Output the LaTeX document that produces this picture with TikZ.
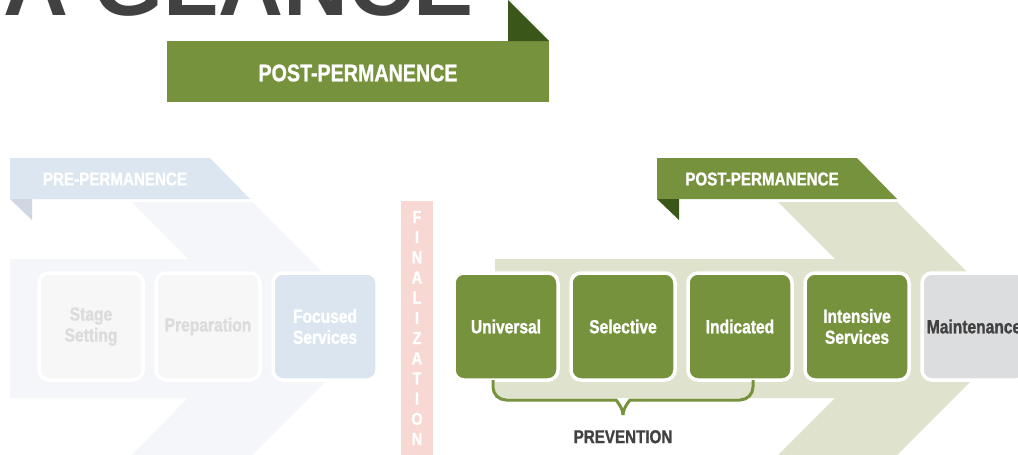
\documentclass[tikz,border=0pt]{standalone}
\usepackage{fontspec}
\setmainfont{Liberation Sans}[FakeStretch=0.82, BoldFeatures={FakeBold=1.2}]
\newfontfamily\titlefont{Liberation Sans}
\usetikzlibrary{positioning}

\definecolor{postgreen}{HTML}{76923C}
\definecolor{foldgreen}{HTML}{3B5619}
\definecolor{postpale}{HTML}{DFE2CC}
\definecolor{prepale}{HTML}{F4F6FA}
\definecolor{prebanner}{HTML}{DCE6F1}
\definecolor{prefold}{HTML}{CED7E2}
\definecolor{finpink}{HTML}{F7D8D3}
\definecolor{ghostfill}{HTML}{F7F7F7}
\definecolor{ghosttext}{HTML}{DCDCDC}
\definecolor{focusfill}{HTML}{DAE5F0}
\definecolor{maintfill}{HTML}{DCDDDF}
\definecolor{darktext}{HTML}{414141}

\begin{document}
\begin{tikzpicture}[
        x=1pt, y=-1pt,
        node distance=13pt,
        stagebox/.style={rectangle, draw=white, line width=3.5pt, rounded corners=10pt, minimum width=104pt, minimum height=107pt, outer sep=0pt, align=center, font=\bfseries\fontsize{19}{21}\selectfont},
        greenbox/.style={stagebox, fill=postgreen, text=white},
        ghostbox/.style={stagebox, fill=ghostfill, text=ghosttext},
        bannertext/.style={inner sep=0pt, text=white, font=\bfseries\fontsize{18.5}{18.5}\selectfont},
        finbar/.style={rectangle, fill=finpink, text=white, minimum width=32pt, minimum height=255pt, align=center, font=\bfseries\fontsize{17.5}{20.2}\selectfont},
        braceline/.style={draw=postgreen, line width=3pt, rounded corners=13pt}
    ]
        \useasboundingbox (0,0) rectangle (1018,455);
        \fill[white] (0,0) rectangle (1018,455);

        % Title and top banner
        \node[anchor=base west, inner sep=0pt, text=darktext, font=\titlefont\bfseries\fontsize{90}{90}\selectfont] (title) at (3,16) {A GLANCE};
        \fill[postgreen] (167,41) rectangle (549,102);
        \fill[foldgreen] (508,0) -- (549,41) -- (508,41) -- cycle;
        \node[bannertext, font=\bfseries\fontsize{24}{24}\selectfont] (toplabel) at (358,73) {POST-PERMANENCE};

        % Chevrons
        \fill[prepale] (10,259) -- (188,259) -- (132,202) -- (252,202) -- (378.5,328.5) -- (252,455) -- (132,455) -- (188,398) -- (10,398) -- cycle;
        \fill[postpale] (495,259) -- (835,259) -- (778,202) -- (897,202) -- (1023.5,328.5) -- (897,455) -- (778,455) -- (835,398) -- (495,398) -- cycle;

        % Banners
        \fill[prebanner] (10,158) -- (210,158) -- (250,199) -- (10,199) -- cycle;
        \fill[prefold] (10,199) -- (32,199) -- (32,220) -- cycle;
        \node[bannertext] (prelabel) at (115,179) {PRE-PERMANENCE};
        \fill[postgreen] (657,158) -- (857,158) -- (897,199) -- (657,199) -- cycle;
        \fill[foldgreen] (657,199) -- (679,199) -- (679,220) -- cycle;
        \node[bannertext] (postlabel) at (762,179) {POST-PERMANENCE};

        % Stages
        \node[ghostbox] (stage) at (91,326.5) {Stage\\Setting};
        \node[ghostbox, right=of stage] (prep) {Preparation};
        \node[stagebox, right=of prep, fill=focusfill, text=white] (focus) {Focused\\Services};
        \node[finbar] (final) at (417,328) {F\\I\\N\\A\\L\\I\\Z\\A\\T\\I\\O\\N};
        \node[greenbox] (uni) at (506,326.5) {Universal};
        \node[greenbox, right=of uni] (sel) {Selective};
        \node[greenbox, right=of sel] (ind) {Indicated};
        \node[greenbox, right=of ind] (intens) {Intensive\\Services};
        \node[stagebox, right=of intens, fill=maintfill, text=darktext] (maint) {Maintenance};

        % Prevention brace
        \coordinate (braceL) at ([xshift=-13pt]uni.south);
        \coordinate (braceR) at ([xshift=13pt]ind.south);
        \coordinate (braceM) at (sel.south |- 0,415);
        \draw[braceline] (braceL) -- (braceL |- 0,400) -- ([xshift=-20pt]braceM |- 0,400)
            .. controls ([xshift=-7pt]braceM |- 0,400) and ([yshift=7pt]braceM) .. (braceM);
        \draw[braceline] (braceR) -- (braceR |- 0,400) -- ([xshift=20pt]braceM |- 0,400)
            .. controls ([xshift=7pt]braceM |- 0,400) and ([yshift=7pt]braceM) .. (braceM);
        \node[below=15pt of braceM, inner sep=0pt, text=darktext, font=\bfseries\fontsize{18.5}{18.5}\selectfont] (prevlabel) {PREVENTION};
    \end{tikzpicture}
\end{document}
